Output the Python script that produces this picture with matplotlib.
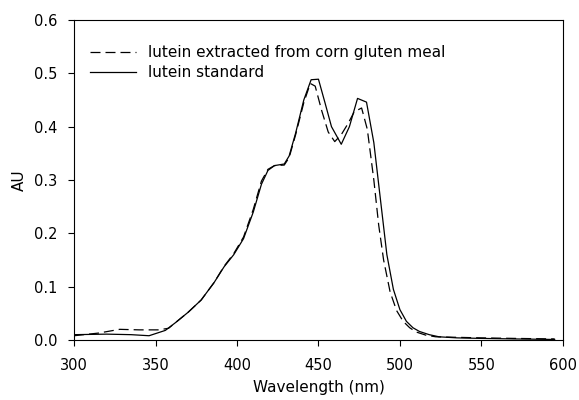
import matplotlib
matplotlib.use("Agg")
import matplotlib.pyplot as plt

plt.rcParams['font.family'] = ['DejaVu Sans']

# lutein standard (solid)
std_wl = [300, 320, 335, 346, 356, 362, 370, 378, 386, 392, 398, 404, 410, 415, 419,
          423, 429, 432, 436, 441, 445.5, 450, 454, 458, 464, 469, 474, 479.5, 484,
          488, 492, 496, 500, 504, 508, 512, 518, 524, 535, 550, 570, 595]
std_au = [0.010, 0.011, 0.010, 0.008, 0.018, 0.032, 0.052, 0.075, 0.108, 0.137, 0.160,
          0.190, 0.240, 0.292, 0.318, 0.327, 0.330, 0.345, 0.388, 0.450, 0.488, 0.489,
          0.445, 0.400, 0.367, 0.400, 0.453, 0.446, 0.370, 0.265, 0.160, 0.095, 0.057,
          0.035, 0.023, 0.016, 0.010, 0.006, 0.004, 0.003, 0.002, 0.001]

# lutein extracted from corn gluten meal (dashed)
ext_wl = [300, 315, 328, 340, 352, 358, 362, 370, 378, 386, 392, 398, 404, 410, 415,
          419, 423, 429, 432, 436, 441, 445, 448, 452, 456, 460, 464, 468, 472, 476.5,
          480, 484, 487, 490, 494, 498, 502, 506, 510, 516, 522, 535, 550, 570, 595]
ext_au = [0.008, 0.013, 0.020, 0.019, 0.019, 0.022, 0.032, 0.052, 0.075, 0.108, 0.138,
          0.162, 0.193, 0.245, 0.298, 0.320, 0.327, 0.328, 0.342, 0.385, 0.445, 0.481,
          0.476, 0.430, 0.390, 0.372, 0.385, 0.405, 0.428, 0.435, 0.395, 0.300, 0.215,
          0.150, 0.090, 0.055, 0.035, 0.023, 0.015, 0.009, 0.006, 0.005, 0.004, 0.003,
          0.002]

fig = plt.figure(figsize=(5.79, 4.0), dpi=100)
ax = fig.add_axes([0.128, 0.15, 0.844, 0.80])

ax.plot(ext_wl, ext_au, color='black', linewidth=0.9, dashes=(8, 4),
        label='lutein extracted from corn gluten meal')
ax.plot(std_wl, std_au, color='black', linewidth=0.9, label='lutein standard')

ax.set_xlim(300, 600)
ax.set_ylim(0, 0.6)
ax.set_xticks([300, 350, 400, 450, 500, 550, 600])
ax.set_yticks([0.0, 0.1, 0.2, 0.3, 0.4, 0.5, 0.6])
ax.set_yticklabels(['0.0', '0.1', '0.2', '0.3', '0.4', '0.5', '0.6'])
ax.tick_params(direction='out', length=4, width=0.8, labelsize=10.5, pad=8)
ax.tick_params(axis='x', pad=9)
for s in ax.spines.values():
    s.set_linewidth(0.8)

ax.set_xlabel('Wavelength (nm)', fontsize=11, labelpad=5)
ax.set_ylabel('AU', fontsize=11, labelpad=5)

ax.legend(loc='upper left', frameon=False, fontsize=11, handlelength=3.0,
          handletextpad=0.8, labelspacing=0.3, bbox_to_anchor=(0.02, 0.94),
          borderaxespad=0)

fig.savefig('out.png', dpi=100)
